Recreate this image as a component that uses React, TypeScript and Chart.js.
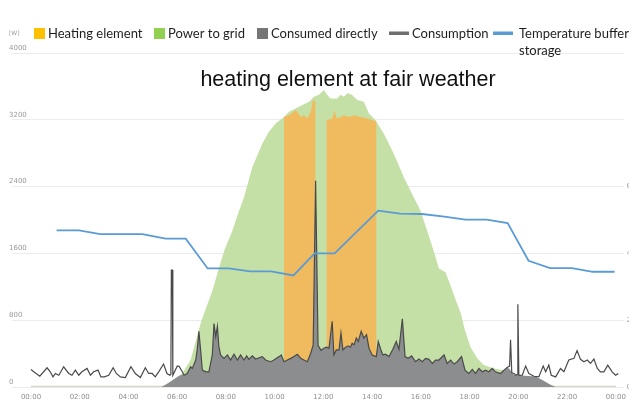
import { useEffect, useRef } from 'react';
import { Chart, registerables } from 'chart.js';

Chart.register(...registerables);

// ---- data (hours of day, watts) ----
const consumptionHours = [
  0.0, 0.11, 0.36, 0.66, 0.79, 0.9, 1.0, 1.14, 1.34, 1.55, 1.68, 1.82, 1.96, 2.09, 2.3, 2.44, 2.57, 2.75, 2.87, 3.01,
  3.19, 3.37, 3.5, 3.67, 3.87, 4.1, 4.28, 4.49, 4.69, 4.83, 4.97, 5.1, 5.24, 5.44, 5.58, 5.7, 5.74, 5.76, 5.8, 5.82, 6.0,
  6.07, 6.21, 6.28, 6.41, 6.55, 6.62, 6.76, 6.82, 6.89, 6.96, 7.03, 7.18, 7.3, 7.44, 7.51, 7.58, 7.65, 7.71, 7.78, 7.92,
  8.06, 8.19, 8.33, 8.47, 8.6, 8.74, 8.85, 8.94, 9.08, 9.22, 9.36, 9.49, 9.63, 9.83, 9.97, 10.18, 10.27, 10.38, 10.52, 10.66,
  10.79, 10.93, 11.07, 11.2, 11.34, 11.48, 11.58, 11.68, 11.78, 11.9, 12.02, 12.12, 12.23, 12.36, 12.43, 12.53, 12.64, 12.72, 12.8, 12.91,
  13.02, 13.11, 13.18, 13.26, 13.35, 13.43, 13.55, 13.66, 13.77, 13.87, 14.0, 14.17, 14.25, 14.36, 14.44, 14.55, 14.69, 14.85, 14.99, 15.1,
  15.24, 15.35, 15.48, 15.62, 15.78, 15.92, 16.06, 16.19, 16.33, 16.47, 16.6, 16.74, 16.95, 17.08, 17.22, 17.36, 17.49, 17.67, 17.81, 17.97,
  18.11, 18.24, 18.38, 18.52, 18.65, 18.79, 18.93, 19.06, 19.27, 19.41, 19.54, 19.64, 19.68, 19.73, 19.82, 19.91, 19.95, 19.98, 20.02, 20.16,
  20.3, 20.43, 20.64, 20.84, 21.02, 21.12, 21.25, 21.35, 21.53, 21.73, 21.87, 22.07, 22.28, 22.41, 22.55, 22.69, 22.83, 22.96, 23.1, 23.24,
  23.37, 23.51, 23.67, 23.85, 23.99, 24.1,
];
const consumptionWatts = [
  210, 182, 129, 230, 182, 121, 162, 141, 242, 162, 141, 202, 141, 182, 222, 141, 182, 202, 121, 121,
  141, 230, 162, 121, 113, 242, 162, 113, 230, 162, 162, 121, 182, 275, 162, 141, 150, 1400, 1400, 140, 250,
  250, 182, 141, 162, 242, 222, 323, 444, 667, 444, 202, 182, 182, 384, 760, 606, 727, 485, 384, 343,
  384, 323, 392, 323, 384, 323, 372, 331, 372, 335, 351, 364, 323, 303, 323, 364, 384, 303, 323, 343,
  364, 392, 343, 323, 303, 404, 505, 2470, 500, 440, 465, 477, 465, 788, 384, 444, 444, 646, 444, 477,
  493, 477, 525, 505, 586, 545, 667, 586, 626, 465, 384, 364, 545, 444, 384, 392, 364, 452, 545, 452,
  816, 364, 343, 372, 303, 335, 303, 343, 331, 283, 323, 323, 384, 283, 323, 275, 303, 364, 202, 162,
  210, 162, 222, 182, 202, 182, 222, 182, 162, 202, 234, 250, 566, 170, 162, 141, 150, 990, 140, 141,
  250, 162, 129, 121, 250, 182, 262, 141, 121, 222, 182, 323, 343, 436, 331, 303, 323, 283, 335, 222,
  182, 182, 262, 182, 141, 160,
];

// consumed directly: ramp-in, follows consumption during the day, ramp-out
const directStartHours = [5.35, 5.6, 5.85, 6.05, 6.2];
const directStartWatts = [0, 40, 90, 130, 150];
const directEndHours = [19.64, 19.8, 20.0, 20.4, 20.7, 21.0, 21.3, 21.53];
const directEndWatts = [215, 150, 140, 132, 125, 80, 30, 0];

// PV production (power to grid area top)
const productionHours = [
  5.35, 5.85, 6.2, 6.55, 6.99, 7.44, 7.69, 7.95, 8.26, 8.5, 8.74, 9.08, 9.49, 9.75, 10.04, 10.38, 10.6, 10.86, 11.1, 11.41,
  11.61, 11.82, 12.02, 12.15, 12.29, 12.57, 12.7, 12.84, 13.0, 13.18, 13.39, 13.66, 13.87, 14.14, 14.48, 14.89, 15.3, 15.71, 15.99, 16.26,
  16.53, 16.74, 17.01, 17.22, 17.42, 17.63, 17.8, 18.04, 18.31, 18.58, 19.0, 19.41, 19.68, 19.82, 20.0, 20.5, 20.7, 21.0, 21.3, 21.55,
];
const productionWatts = [
  0, 90, 160, 323, 790, 1150, 1405, 1650, 1868, 2080, 2270, 2632, 2913, 3050, 3155, 3235, 3300, 3335, 3370, 3416,
  3476, 3500, 3556, 3500, 3456, 3456, 3500, 3476, 3520, 3496, 3436, 3416, 3275, 3195, 3034, 2792, 2511, 2270, 2109, 1868,
  1626, 1420, 1374, 1212, 1050, 889, 690, 477, 343, 262, 222, 202, 162, 141, 135, 128, 122, 78, 28, 0,
];

// heating element blocks (top of orange area)
const heatingHours = [
  10.38, 10.38, 10.59, 10.86, 10.93, 11.07, 11.2, 11.34, 11.48, 11.57, 11.68, 11.68,
  12.12, 12.12, 12.36, 12.46, 12.54, 12.7, 12.84, 13.05, 13.25, 13.52, 13.8, 14.0, 14.18, 14.18,
];
const heatingWatts = [
  0, 3235, 3255, 3315, 3295, 3235, 3255, 3215, 3295, 3436, 3416, 0,
  0, 3195, 3215, 3315, 3215, 3235, 3255, 3235, 3255, 3235, 3215, 3195, 3187, 0,
];
const heatingGapAt = 11.9; // break between the two blocks

// buffer storage temperature (°C)
const temperatureHours = [
  1.05, 1.97, 2.84, 4.57, 5.52, 6.35, 7.25, 8.12, 8.99, 9.86, 10.77, 11.64, 12.46, 14.25, 15.15, 16.05, 16.96,
  17.83, 18.7, 19.56, 20.42, 21.3, 22.2, 23.05, 23.95,
];
const temperatureValues = [
  46.9, 46.9, 45.8, 45.8, 44.4, 44.4, 35.5, 35.5, 34.6, 34.6, 33.4, 40.0, 40.0, 52.8, 51.9, 51.8, 51.0,
  50.1, 50.1, 49.1, 37.8, 35.6, 35.6, 34.5, 34.5,
];

const xTickHours = [0, 2, 4, 6, 8, 10, 12, 14, 16, 18, 20, 22, 24];
const xTickLabels = ['00:00', '02:00', '04:00', '06:00', '08:00', '10:00', '12:00', '14:00', '16:00', '18:00', '20:00', '22:00', '00:00'];
const yTicksWatts = [0, 800, 1600, 2400, 3200, 4000];
const y2TickLabels: Record<number, string> = { 0: '0', 20: '20', 40: '40', 60: '60' };

const titleText = 'heating element at fair weather';
const unitText = '[W]';

const COLORS = {
  heatingLegend: '#ffc000',
  heatingArea: '#efbb5e',
  gridLegend: '#92d050',
  gridArea: '#c5e0a6',
  directLegend: '#767676',
  directArea: '#8b8d8f',
  consumption: '#4a4a4a',
  temperature: '#5b9bd5',
  baseline: '#d3d3c6',
};

const toXY = (hs: number[], ws: number[]) => hs.map((h, i) => ({ x: h, y: ws[i] }));

export default function App() {
  const ref = useRef<HTMLCanvasElement>(null);

  useEffect(() => {
    document.body.style.margin = '0';
    const canvas = ref.current;
    if (!canvas) return;

    const directPts = [
      ...toXY(directStartHours, directStartWatts),
      ...toXY(consumptionHours, consumptionWatts).filter((p) => p.x >= 6.28 && p.x <= 19.54),
      ...toXY(directEndHours, directEndWatts),
    ];
    const heatPts: { x: number; y: number | null }[] = toXY(heatingHours, heatingWatts);
    const splitIdx = heatPts.findIndex((p) => p.x > heatingGapAt);
    heatPts.splice(splitIdx, 0, { x: heatingGapAt, y: null });

    const legendPlugin = {
      id: 'customLegendTitle',
      afterDraw(chart: Chart) {
        const ctx = chart.ctx;
        ctx.save();
        ctx.fillStyle = '#9a9a9a';
        ctx.font = '6px "DejaVu Sans"';
        ctx.textBaseline = 'middle';
        ctx.textAlign = 'left';
        ctx.fillText(unitText, 9, 33);

        const items = [
          { label: 'Heating element', kind: 'box', color: COLORS.heatingLegend, x: 34, tx: 48 },
          { label: 'Power to grid', kind: 'box', color: COLORS.gridLegend, x: 154, tx: 168 },
          { label: 'Consumed directly', kind: 'box', color: COLORS.directLegend, x: 257, tx: 271 },
          { label: 'Consumption', kind: 'line', color: '#6e6e6e', x: 389, tx: 412 },
          { label: ['Temperature buffer', 'storage'], kind: 'line', color: COLORS.temperature, x: 493, tx: 519 },
        ];
        ctx.font = '13px Lato';
        for (const it of items) {
          ctx.fillStyle = it.color;
          if (it.kind === 'box') {
            ctx.fillRect(it.x, 28, 11, 11);
          } else {
            ctx.fillRect(it.x, 31.5, 20, 3.5);
          }
          ctx.fillStyle = '#1e1e1e';
          const lines = Array.isArray(it.label) ? it.label : [it.label];
          lines.forEach((l, i) => ctx.fillText(l, it.tx, 33.5 + i * 17));
        }

        ctx.font = '21.5px "Liberation Sans"';
        ctx.fillStyle = '#111111';
        ctx.textAlign = 'center';
        ctx.fillText(titleText, 348, 80);
        ctx.restore();
      },
    };

    const chart = new Chart(canvas, {
      type: 'line',
      data: {
        datasets: [
          {
            label: 'Temperature buffer storage',
            data: toXY(temperatureHours, temperatureValues),
            yAxisID: 'y2',
            borderColor: COLORS.temperature,
            borderWidth: 1.8,
            pointRadius: 0,
            fill: false,
            order: 0,
          },
          {
            label: 'Consumption',
            data: toXY(consumptionHours, consumptionWatts),
            borderColor: COLORS.consumption,
            borderWidth: 1.2,
            pointRadius: 0,
            fill: false,
            order: 1,
          },
          {
            label: 'Consumed directly',
            data: directPts,
            borderWidth: 0,
            borderColor: 'rgba(0,0,0,0)',
            backgroundColor: COLORS.directArea,
            pointRadius: 0,
            fill: 'origin',
            order: 2,
          },
          {
            label: 'Heating element',
            data: heatPts,
            borderWidth: 0,
            borderColor: 'rgba(0,0,0,0)',
            backgroundColor: COLORS.heatingArea,
            pointRadius: 0,
            fill: 'origin',
            spanGaps: false,
            order: 3,
          },
          {
            label: 'Power to grid',
            data: toXY(productionHours, productionWatts),
            borderWidth: 0,
            borderColor: 'rgba(0,0,0,0)',
            backgroundColor: COLORS.gridArea,
            pointRadius: 0,
            fill: 'origin',
            order: 4,
          },
          {
            label: 'baseline',
            data: [
              { x: 0, y: 0 },
              { x: 24, y: 0 },
            ],
            borderColor: COLORS.baseline,
            borderWidth: 2.5,
            pointRadius: 0,
            fill: false,
            order: 5,
          },
        ],
      },
      options: {
        responsive: false,
        animation: false,
        devicePixelRatio: 1,
        layout: { padding: { top: 53, left: 12, right: 0, bottom: 3 } },
        plugins: {
          legend: { display: false },
          tooltip: { enabled: false },
          title: { display: false },
        },
        scales: {
          x: {
            type: 'linear',
            min: -0.78,
            max: 24.33,
            grid: { display: false, drawTicks: false },
            border: { display: false },
            afterBuildTicks: (scale: any) => {
              scale.ticks = xTickHours.map((v) => ({ value: v }));
            },
            afterFit: (scale: any) => {
              scale.height = 13;
            },
            ticks: {
              autoSkip: false,
              maxRotation: 0,
              padding: 6,
              color: '#8f8f8f',
              font: { size: 7, family: 'DejaVu Sans' },
              callback: (_v: any, i: number) => xTickLabels[i],
            },
          },
          y: {
            type: 'linear',
            position: 'left',
            min: 0,
            max: 4000,
            afterBuildTicks: (scale: any) => {
              scale.ticks = yTicksWatts.map((v) => ({ value: v }));
            },
            grid: { color: '#ececec', lineWidth: 1, drawTicks: false },
            border: { display: false },
            ticks: {
              mirror: true,
              padding: -1,
              labelOffset: -5,
              color: '#9a9a9a',
              font: { size: 7, family: 'DejaVu Sans' },
              callback: (v: any) => String(v),
            },
          },
          y2: {
            type: 'linear',
            position: 'right',
            min: 0,
            max: 100,
            grid: { display: false, drawTicks: false },
            border: { display: false },
            afterFit: (scale: any) => {
              scale.width = 7;
            },
            ticks: {
              stepSize: 20,
              padding: 5,
              color: '#9a9a9a',
              font: { size: 7, family: 'DejaVu Sans' },
              callback: (v: any) => y2TickLabels[v as number] ?? '',
            },
          },
        },
      },
      plugins: [legendPlugin],
    });

    return () => chart.destroy();
  }, []);

  return <canvas ref={ref} width={632} height={403} style={{ display: 'block', width: 632, height: 403 }} />;
}
